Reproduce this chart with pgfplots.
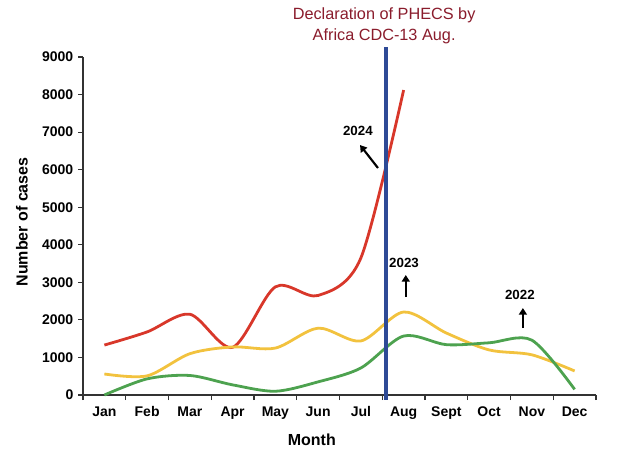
\documentclass[border=0pt]{standalone}
\usepackage{pgfplots}
\pgfplotsset{compat=1.18}
\usepackage{fontspec}
\setmainfont{Liberation Sans}
\usetikzlibrary{arrows.meta}
\definecolor{redA}{HTML}{D8372A}
\definecolor{yelA}{HTML}{F2C23E}
\definecolor{grnA}{HTML}{4DA24F}
\definecolor{bluA}{HTML}{2E4A96}
\definecolor{titA}{HTML}{8A1C2C}
\begin{document}
\begin{tikzpicture}
\begin{axis}[
 at={(62.25pt,49.5pt)}, anchor=south west,
 width=384.75pt, height=253.5pt, scale only axis,
 xmin=0.5, xmax=12.5, ymin=0, ymax=9000,
 axis x line*=bottom, axis y line*=left,
 axis line style={draw=black!80, line width=0.8pt},
 xtick={1,...,12},
 xticklabels={Jan,Feb,Mar,Apr,May,Jun,Jul,Aug,Sept,Oct,Nov,Dec},
 major x tick style={draw=none},
 minor xtick={0.5,1.5,...,12.5},
 ytick={0,1000,...,9000},
 tick align=outside,
 major tick length=3.75pt, minor tick length=3.75pt,
 tick style={black!80, line width=0.8pt},
 scaled y ticks=false,
 /pgf/number format/assume math mode=true,
 /pgf/number format/1000 sep={},
 ticklabel style={font=\bfseries\fontsize{10.5}{12}\selectfont},
 xticklabel style={yshift=-1.5pt},
 xlabel={Month}, ylabel={Number of cases},
 label style={font=\bfseries\fontsize{12}{14}\selectfont},
 xlabel style={at={(axis description cs:0.446,-0.133)}, anchor=center},
 ylabel style={at={(axis description cs:-0.119,0.512)}, anchor=center},
 clip=false,
 every axis plot/.append style={line width=2.1pt, smooth, no markers},
]
% 2024
\addplot[redA] coordinates {(1,1330) (2,1680) (3,2150) (4,1270) (5,2880) (6,2650) (7,3650) (8,8120)};
% 2023
\addplot[yelA] coordinates {(1,560) (2,510) (3,1100) (4,1280) (5,1250) (6,1780) (7,1440) (8,2210) (9,1650) (10,1200) (11,1070) (12,640)};
% 2022
\addplot[grnA] coordinates {(1,0) (2,430) (3,520) (4,270) (5,100) (6,350) (7,720) (8,1570) (9,1340) (10,1390) (11,1460) (12,150)};
% declaration line
\addplot[bluA, line width=3pt, sharp plot] coordinates {(7.59,9265) (7.59,-130)};
% annotations
\node[font=\bfseries\fontsize{10}{12}\selectfont] at (axis cs:6.93,7030) {2024};
\draw[-{Triangle[length=5pt,width=6pt]}, line width=1.6pt] (axis cs:7.40,6044) -- (axis cs:6.98,6656);
\node[font=\bfseries\fontsize{10}{12}\selectfont] at (axis cs:8.01,3514) {2023};
\draw[-{Triangle[length=5pt,width=6pt]}, line width=1.6pt] (axis cs:8.05,2609) -- (axis cs:8.05,3195);
\node[font=\bfseries\fontsize{10}{12}\selectfont] at (axis cs:10.72,2662) {2022};
\draw[-{Triangle[length=5pt,width=6pt]}, line width=1.6pt] (axis cs:10.79,1784) -- (axis cs:10.79,2316);
\node[align=center, text=titA, font=\fontsize{12.2}{15.75}\selectfont] at (axis description cs:0.587,1.093) {Declaration of PHECS by\\Africa CDC-13 Aug.};
\end{axis}
\pgfresetboundingbox
\path[use as bounding box] (0,0) rectangle (475.5pt,345.75pt);
\end{tikzpicture}
\end{document}
